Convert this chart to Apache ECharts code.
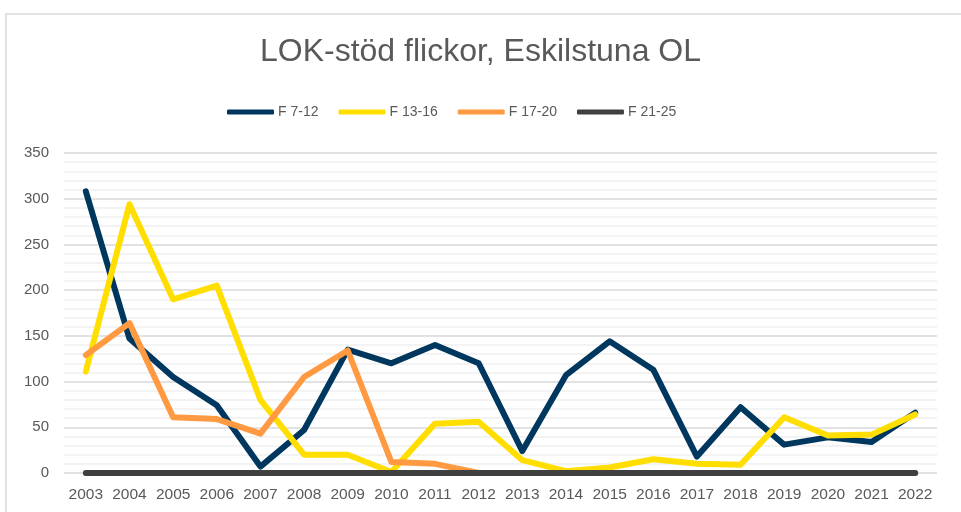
<!DOCTYPE html>
<html>
<head>
<meta charset="utf-8">
<script src="https://cdn.jsdelivr.net/npm/echarts@6/dist/echarts.min.js"></script>
<style>
  html, body { margin: 0; padding: 0; background: #fff; }
  #chart { width: 961px; height: 512px; }
</style>
</head>
<body>
<div id="chart"></div>
<script>
// årtal
var years = ['2003', '2004', '2005', '2006', '2007', '2008', '2009', '2010', '2011', '2012',
  '2013', '2014', '2015', '2016', '2017', '2018', '2019', '2020', '2021', '2022'];
// serier
var f7_12 = [308, 147, 105, 74, 7, 47, 135, 120, 140, 120, 24, 107, 144, 113, 18, 72, 31, 39, 34, 66];
var f13_16 = [111, 294, 190, 205, 80, 20, 20, 1, 54, 56, 14, 2, 6, 15, 10, 9, 61, 41, 42, 64];
var f17_20 = [129, 164, 61, 59, 43, 105, 134, 12, 10, 0, 0, 0, 0, 0, 0, 0, 0, 0, 0, 0];
var f21_25 = [0, 0, 0, 0, 0, 0, 0, 0, 0, 0, 0, 0, 0, 0, 0, 0, 0, 0, 0, 0];
var seriesNames = ['F 7-12', 'F 13-16', 'F 17-20', 'F 21-25'];
var colors = ['#00375e', '#ffde00', '#ff9a42', '#404040'];

var font = '"Liberation Sans", Arial, sans-serif';
var chart = echarts.init(document.getElementById('chart'));

function lineSeries(name, data, color) {
  return {
    name: name,
    type: 'line',
    data: data,
    symbol: 'none',
    lineStyle: { width: 6, color: color, cap: 'round', join: 'round' },
    itemStyle: { color: color },
    emphasis: { disabled: true }
  };
}

chart.setOption({
  animation: false,
  color: colors,
  title: {
    text: 'LOK-stöd flickor, Eskilstuna OL',
    left: 'center',
    top: 31,
    textStyle: { fontFamily: font, fontSize: 32, fontWeight: 'normal', color: '#595959' }
  },
  legend: {
    data: seriesNames,
    top: 100,
    left: 222,
    icon: 'roundRect',
    itemWidth: 47,
    itemHeight: 5,
    itemGap: 20,
    textStyle: { fontFamily: font, fontSize: 14, color: '#595959', padding: [0, 0, 0, -1] }
  },
  grid: { left: 64, right: 24, top: 153, bottom: 39 },
  xAxis: {
    type: 'category',
    data: years,
    boundaryGap: true,
    axisLine: { show: false },
    axisTick: { show: false },
    axisLabel: { fontFamily: font, fontSize: 15.5, color: '#595959', margin: 14, interval: 0 }
  },
  yAxis: {
    type: 'value',
    min: 0,
    max: 350,
    interval: 50,
    axisLine: { show: false },
    axisTick: { show: false },
    axisLabel: { fontFamily: font, fontSize: 15, color: '#595959', margin: 15 },
    splitLine: { lineStyle: { color: '#d9d9d9', width: 1.5 } },
    minorTick: { show: false, splitNumber: 5 },
    minorSplitLine: { show: true, lineStyle: { color: '#f0f0f0', width: 1.5 } }
  },
  graphic: [{
    type: 'rect',
    shape: { x: 6, y: 14, width: 1000, height: 600 },
    style: { fill: 'none', stroke: '#d9d9d9', lineWidth: 1.5 },
    silent: true
  }],
  series: [
    lineSeries(seriesNames[0], f7_12, colors[0]),
    lineSeries(seriesNames[1], f13_16, colors[1]),
    lineSeries(seriesNames[2], f17_20, colors[2]),
    lineSeries(seriesNames[3], f21_25, colors[3])
  ]
});
window.addEventListener('resize', function () { chart.resize(); });
</script>
</body>
</html>
